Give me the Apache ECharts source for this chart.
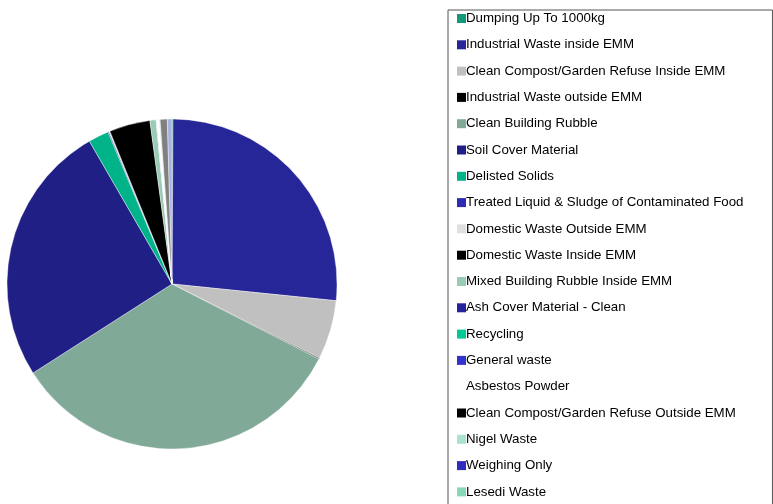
<!DOCTYPE html>
<html>
<head>
<meta charset="utf-8">
<script src="https://cdn.jsdelivr.net/npm/echarts@6/dist/echarts.min.js"></script>
<style>
  html, body { margin: 0; padding: 0; background: #fff; }
  #chart { width: 773px; height: 504px; }
</style>
</head>
<body>
<div id="chart"></div>
<script>
// Waste stream categories, in drawing order (clockwise from 12 o'clock)
const categories = [
  'Dumping Up To 1000kg',
  'Industrial Waste inside EMM',
  'Clean Compost/Garden Refuse Inside EMM',
  'Industrial Waste outside EMM',
  'Clean Building Rubble',
  'Soil Cover Material',
  'Delisted Solids',
  'Treated Liquid & Sludge of Contaminated Food',
  'Domestic Waste Outside EMM',
  'Domestic Waste Inside EMM',
  'Mixed Building Rubble Inside EMM',
  'Ash Cover Material - Clean',
  'Recycling',
  'General waste',
  'Asbestos Powder',
  'Clean Compost/Garden Refuse Outside EMM',
  'Nigel Waste',
  'Weighing Only',
  'Lesedi Waste',
  'Other',
  'Unclassified'
];

// Share of total tonnage (%)
const shares = [
  0.1, 26.5, 5.8, 0.1, 33.4, 25.7, 2.0, 0.1, 0.1, 4.0, 0.6,
  0.02, 0.02, 0.02, 0.25, 0.02, 0.02, 0.02, 0.02, 0.7, 0.45
];

const sliceColors = [
  '#139878', '#262699', '#c0c0c0', '#000000', '#80a998', '#1f1f86',
  '#00b389', '#2b2bb5', '#e0e0e0', '#000000', '#9acbb5', '#24249a',
  '#00c896', '#3333cc', '#ffffff', '#000000', '#aae3cc', '#2d2dbb',
  '#88d8b8', '#808080', '#aab0e0'
];

const chart = echarts.init(document.getElementById('chart'), null, { renderer: 'canvas' });

chart.setOption({
  animation: false,
  backgroundColor: '#ffffff',
  color: sliceColors,
  legend: {
    orient: 'vertical',
    left: 448,
    top: 10,
    height: 1200,
    padding: [2, 29, 6, 9],
    itemGap: 13.3,
    itemWidth: 9,
    itemHeight: 9,
    icon: 'rect',
    itemStyle: { borderWidth: 0 },
    borderColor: '#555555',
    borderWidth: 1,
    borderRadius: 0,
    textStyle: {
      fontFamily: 'Liberation Sans, Arial, sans-serif',
      fontSize: 13.3,
      color: '#000000',
      padding: [0, 0, 0, -5]
    },
    data: categories
  },
  series: [{
    type: 'pie',
    center: [172, 284],
    radius: 165,
    startAngle: 90,
    clockwise: true,
    avoidLabelOverlap: false,
    label: { show: false },
    labelLine: { show: false },
    emphasis: { disabled: true },
    itemStyle: { borderColor: '#ffffff', borderWidth: 0.4 },
    data: categories.map((name, i) => ({
      name: name,
      value: shares[i],
      itemStyle: { color: sliceColors[i] }
    }))
  }]
});
</script>
</body>
</html>
